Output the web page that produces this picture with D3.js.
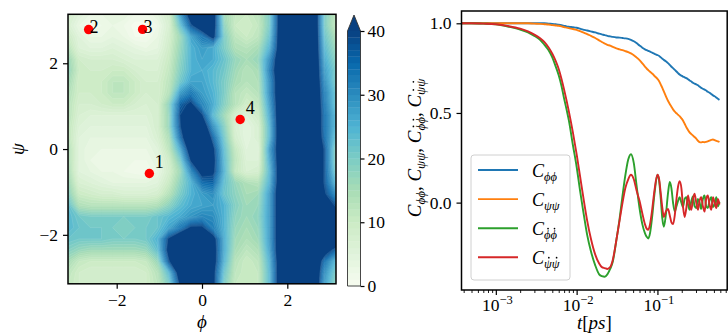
<!DOCTYPE html>
<html>
<head>
<meta charset="utf-8">
<script src="https://cdn.jsdelivr.net/npm/d3@7"></script>
<style>
  html, body { margin: 0; padding: 0; background: #fff; }
  svg text { font-family: "Liberation Serif", "DejaVu Serif", serif; fill: #000; }
</style>
</head>
<body>
<svg id="fig" width="728" height="334"></svg>
<script>
// ---------------- data: free energy map over (phi, psi) ----------------
const phiTicks = [-2, 0, 2];
const psiTicks = [-2, 0, 2];
const energyTicks = [0, 10, 20, 30, 40];
const energyLevels = d3.range(0, 41);          // contour levels, 1 unit apart
// rows run from psi = +pi (top) to psi = -pi (bottom), columns from phi = -pi to +pi
const freeEnergy = [
  [8, 5, 3, 3, 4, 4, 2, 2, 4, 8, 28, 45, 48, 45, 16, 11, 10, 12, 20, 45, 50, 50, 50, 20, 12],
  [7, 3, 0.5, 2, 3, 2, 0.5, 0.5, 2, 7, 22, 38, 46, 44, 18, 10, 9, 11, 20, 45, 50, 50, 50, 20, 11],
  [10, 5, 3, 3, 4, 3, 1, 1, 3, 8, 16, 27, 33, 42, 20, 12, 10, 12, 22, 45, 50, 50, 50, 22, 14],
  [13, 6, 5, 5, 6, 5, 4, 3, 4, 9, 17, 25, 28, 26, 20, 14, 13, 15, 25, 45, 50, 50, 50, 24, 16],
  [17, 9, 8, 8, 8, 7, 6, 6, 6, 10, 18, 25, 27, 26, 22, 17, 15, 17, 30, 47, 50, 50, 50, 26, 18],
  [18, 10, 9, 9, 10, 10, 8, 7, 7, 11, 19, 25, 26, 24, 21, 16, 13, 15, 32, 48, 50, 50, 50, 28, 20],
  [16, 9, 9, 10, 12, 12, 10, 8, 8, 12, 21, 27, 27, 24, 20, 15, 13, 14, 30, 47, 50, 50, 50, 30, 20],
  [14, 9, 9, 10, 12, 12, 10, 8, 8, 13, 28, 33, 28, 25, 20, 13, 11, 13, 30, 47, 50, 50, 50, 32, 22],
  [13, 8, 8, 9, 10, 10, 8, 7, 8, 18, 36, 41, 31, 26, 19, 13, 9, 11, 28, 47, 50, 50, 50, 33, 22],
  [13, 7, 6, 6, 6, 6, 6, 6, 8, 17, 39, 47, 40, 24, 16, 8, 6, 9, 26, 47, 50, 50, 50, 34, 24],
  [12, 6, 5, 5, 5, 5, 5, 5, 8, 17, 38, 52, 47, 30, 19, 7, 4, 7, 24, 47, 50, 50, 50, 34, 24],
  [12, 5, 4, 4, 4, 4, 4, 4, 7, 14, 34, 51, 53, 36, 21, 8, 4, 7, 24, 47, 50, 50, 50, 35, 22],
  [14, 5, 3, 3, 3, 3, 3, 3, 5, 12, 26, 46, 54, 41, 23, 11, 5, 5, 28, 46, 50, 50, 50, 38, 18],
  [14, 5, 3, 2, 2, 2, 2, 2, 4, 9, 20, 40, 49, 42, 24, 12, 6, 6, 26, 46, 50, 50, 50, 38, 18],
  [15, 5, 4, 3, 3, 2, 1.5, 1, 3, 8, 16, 31, 43, 41, 25, 11, 7, 8, 24, 46, 50, 50, 50, 38, 20],
  [17, 7, 6, 5, 4, 4, 4, 4, 5, 10, 18, 25, 35, 36, 23, 17, 14, 13, 25, 46, 50, 50, 50, 38, 24],
  [19, 10, 9, 8, 8, 7, 7, 7, 8, 13, 20, 25, 28, 30, 22, 18, 15, 16, 28, 47, 50, 50, 50, 40, 30],
  [23, 14, 13, 13, 13, 13, 13, 13, 14, 18, 23, 26, 27, 28, 25, 19, 16, 17, 28, 47, 50, 50, 50, 45, 38],
  [24, 21, 20, 20, 20, 20, 20, 20, 22, 24, 26, 29, 31, 30, 25, 18, 16, 18, 28, 47, 50, 50, 50, 48, 45],
  [24, 22, 21, 21, 20, 19, 20, 21, 22, 27, 33, 40.5, 40.5, 32, 25, 17, 15, 17, 28, 47, 50, 50, 50, 50, 50],
  [22, 21, 21, 21, 20, 20, 20, 21, 25, 40, 48, 52, 52, 43, 26, 16, 14, 16, 28, 47, 50, 50, 50, 50, 50],
  [19, 17, 16, 16, 16, 16, 16, 17, 23, 42, 50, 50, 50, 44, 26, 15, 12, 14, 27, 47, 50, 50, 50, 44, 36],
  [15, 11, 10, 10, 10, 10, 10, 11, 17, 38, 50, 50, 50, 44, 25, 13, 10, 12, 25, 46, 50, 50, 50, 34, 24],
  [12, 9, 8, 8, 8, 8, 8, 9, 13, 24, 45, 50, 50, 42, 22, 12, 10, 11, 24, 46, 50, 50, 50, 30, 20],
  [11, 9, 8, 8, 8, 8, 8, 9, 12, 20, 40, 50, 50, 42, 20, 11, 10, 11, 24, 46, 50, 50, 50, 28, 18]
];
// metastable states marked on the map
const stateNames = ["1", "2", "3", "4"];
const statePhi = [-1.234, -2.658, -1.393, 0.895];
const statePsi = [-0.569, 2.786, 2.79, 0.69];

// ---------------- data: time correlation functions ----------------
const lagTimes = [0.00038, 0.0005, 0.0007, 0.001, 0.0014, 0.002, 0.0025, 0.003, 0.0035, 0.004,
  0.0045, 0.005, 0.0055, 0.006, 0.0065, 0.007, 0.0075, 0.008, 0.009, 0.01,
  0.011, 0.012, 0.0135, 0.015, 0.017, 0.019, 0.0205, 0.0223, 0.024, 0.026,
  0.028, 0.031, 0.034, 0.037, 0.04, 0.0435, 0.047, 0.051, 0.055, 0.06,
  0.065, 0.07, 0.0735, 0.077, 0.081, 0.086, 0.092, 0.1, 0.105, 0.11,
  0.115, 0.12, 0.127, 0.135, 0.142, 0.149, 0.156, 0.164, 0.172, 0.18,
  0.188, 0.198, 0.207, 0.217, 0.228, 0.239, 0.25, 0.263, 0.275, 0.288,
  0.302, 0.317, 0.332, 0.348, 0.365, 0.383, 0.401, 0.42, 0.441, 0.464,
  0.487, 0.51, 0.535, 0.56, 0.586];
const corrPhiPhi = [1, 1, 1, 1, 1, 1, 1, 1, 1, 1,
  0.998, 0.997, 0.995, 0.992, 0.989, 0.986, 0.983, 0.981, 0.978, 0.975,
  0.97, 0.965, 0.96, 0.955, 0.949, 0.942, 0.938, 0.934, 0.93, 0.927,
  0.924, 0.921, 0.92, 0.918, 0.916, 0.913, 0.908, 0.9, 0.89, 0.876,
  0.864, 0.855, 0.85, 0.846, 0.842, 0.836, 0.83, 0.823, 0.818, 0.81,
  0.802, 0.796, 0.788, 0.778, 0.768, 0.758, 0.75, 0.74, 0.731, 0.722,
  0.714, 0.708, 0.703, 0.699, 0.694, 0.688, 0.681, 0.675, 0.668, 0.663,
  0.66, 0.654, 0.647, 0.64, 0.635, 0.63, 0.625, 0.618, 0.613, 0.605,
  0.598, 0.593, 0.586, 0.579, 0.573];
const corrPsiPsi = [1, 1, 1, 1, 1, 1, 1, 0.998, 0.997, 0.995,
  0.993, 0.99, 0.988, 0.986, 0.983, 0.979, 0.976, 0.973, 0.968, 0.963,
  0.956, 0.949, 0.94, 0.93, 0.918, 0.905, 0.896, 0.887, 0.88, 0.875,
  0.868, 0.86, 0.855, 0.85, 0.845, 0.839, 0.832, 0.822, 0.81, 0.795,
  0.776, 0.759, 0.748, 0.739, 0.73, 0.72, 0.706, 0.69, 0.677, 0.658,
  0.64, 0.62, 0.594, 0.568, 0.55, 0.535, 0.52, 0.507, 0.498, 0.49,
  0.482, 0.47, 0.458, 0.44, 0.42, 0.405, 0.392, 0.382, 0.374, 0.366,
  0.357, 0.345, 0.338, 0.336, 0.338, 0.337, 0.339, 0.342, 0.346, 0.35,
  0.352, 0.348, 0.344, 0.342, 0.338];
const corrDPhiDPhi = [1, 1, 0.998, 0.994, 0.982, 0.965, 0.95, 0.93, 0.91, 0.88,
  0.85, 0.81, 0.76, 0.71, 0.65, 0.58, 0.52, 0.46, 0.32, 0.2,
  0.07, -0.04, -0.18, -0.27, -0.35, -0.4, -0.41, -0.413, -0.4, -0.37,
  -0.33, -0.21, -0.09, 0.04, 0.15, 0.24, 0.27, 0.22, 0.1, -0.03,
  -0.12, -0.17, -0.19, -0.2, -0.17, -0.08, 0.05, 0.155, 0.12, 0.02,
  -0.09, -0.135, -0.07, 0.05, 0.115, 0.08, 0, -0.05, -0.02, 0.01,
  0.03, 0, -0.025, 0.02, 0.03, -0.01, -0.04, 0.01, 0.035, -0.02,
  -0.03, 0.02, 0, -0.035, 0.02, 0.04, -0.02, -0.03, 0.01, 0.03,
  -0.025, -0.01, 0.03, -0.02, 0.005];
const corrDPsiDPsi = [1, 1, 0.998, 0.995, 0.985, 0.97, 0.955, 0.937, 0.918, 0.895,
  0.865, 0.83, 0.79, 0.745, 0.69, 0.63, 0.57, 0.51, 0.39, 0.27,
  0.15, 0.04, -0.1, -0.2, -0.29, -0.34, -0.36, -0.365, -0.37, -0.36,
  -0.32, -0.21, -0.1, 0, 0.08, 0.13, 0.155, 0.13, 0.07, 0.01,
  -0.06, -0.12, -0.145, -0.152, -0.12, -0.04, 0.07, 0.155, 0.13, 0.05,
  -0.03, -0.08, -0.05, -0.036, -0.07, -0.11, -0.12, -0.07, 0.02, 0.09,
  0.12, 0.08, -0.02, -0.08, -0.03, 0.04, -0.01, -0.04, 0.02, 0.05,
  0, -0.04, 0.01, 0.03, -0.02, -0.05, 0.02, 0.04, -0.01, -0.04,
  0.03, 0, -0.03, 0.02, -0.01];
const corrTicks = [0, 0.5, 1];
const timeTicks = [1e-3, 1e-2, 1e-1];

// ---------------- helpers ----------------
const svg = d3.select("#fig");
const PI = Math.PI;
const minus = v => (v < 0 ? "\u2212" + Math.abs(v) : String(v));
const gnbuStops = ["#f7fcf0", "#e0f3db", "#ccebc5", "#a8ddb5", "#7bccc4", "#4eb3d3", "#2b8cbe", "#0868ac", "#084081"];
const gnbu = d3.piecewise(d3.interpolateRgb, gnbuStops);
const topLevel = energyTicks[energyTicks.length - 1];
const bandColor = t => (t >= topLevel ? gnbu(1) : gnbu((t + 0.5) / topLevel));
const TICK_FS = 17.5, LABEL_FS = 19;

function styleAxis(g) {
  g.attr("font-size", null).attr("font-family", null);
  g.select(".domain").remove();
  g.selectAll(".tick line").attr("stroke", "#000").attr("stroke-width", 1.2);
  g.selectAll(".tick text").style("font-size", TICK_FS + "px");
}

// Writes C with a subscript; letters flagged with dots get an overdot (time derivative).
function mathText(g, pieces, size) {
  const text = g.append("text").style("font-size", size + "px");
  let idx = 0, level = 0;
  const dotted = [];
  pieces.forEach(p => {
    const target = p.sub ? 4 : 0;
    const ts = text.append("tspan").text(p.t);
    if (target !== level) ts.attr("dy", target - level);
    level = target;
    if (p.italic) ts.attr("font-style", "italic");
    if (p.sub) ts.style("font-size", p.sub + "px");
    if (p.dot) for (let k = 0; k < p.t.length; k++) dotted.push(idx + k);
    idx += p.t.length;
  });
  return { text, dotted };
}
function placeDots(g, m) {
  const node = m.text.node();
  m.dotted.forEach(i => {
    const b = node.getExtentOfChar(i);
    g.append("circle").attr("cx", b.x + b.width * 0.62).attr("cy", b.y + b.height * 0.06)
      .attr("r", 0.85).attr("fill", "#000");
  });
}
const subPieces = (sub, dot, subSize) => [
  { t: "C", italic: true },
  { t: sub, italic: true, sub: subSize, dot: dot }
];

// ================= left panel: free energy contour map =================
const L = { x0: 68, x1: 336, y0: 14.3, y1: 283.8 };
const xPhi = d3.scaleLinear([-PI, PI], [L.x0, L.x1]);
const yPsi = d3.scaleLinear([-PI, PI], [L.y1, L.y0]);
const nx = freeEnergy[0].length, ny = freeEnergy.length;
const dPhi = 2 * PI / (nx - 1), dPsi = 2 * PI / (ny - 1);

svg.append("clipPath").attr("id", "mapClip")
  .append("rect").attr("x", L.x0).attr("y", L.y0).attr("width", L.x1 - L.x0).attr("height", L.y1 - L.y0);

const bands = d3.contours().size([nx, ny]).thresholds(energyLevels)(freeEnergy.flat());
// grid coordinate c sits at sample index c - 0.5
const gridToPlot = d3.geoTransform({
  point(x, y) { this.stream.point(xPhi(-PI + (x - 0.5) * dPhi), yPsi(PI - (y - 0.5) * dPsi)); }
});
const bandPath = d3.geoPath(gridToPlot);

svg.append("g").attr("clip-path", "url(#mapClip)")
  .selectAll("path").data(bands).join("path")
  .attr("d", bandPath)
  .attr("fill", d => bandColor(d.value))
  .attr("stroke", "#ffffff")
  .attr("stroke-opacity", d => (d.value >= topLevel ? 0 : 0.24))
  .attr("stroke-width", 0.45);

// state markers and their numbers
const states = stateNames.map((n, i) => ({ name: n, phi: statePhi[i], psi: statePsi[i] }));
svg.append("g").selectAll("circle").data(states).join("circle")
  .attr("cx", d => xPhi(d.phi)).attr("cy", d => yPsi(d.psi)).attr("r", 4.7).attr("fill", "#ff0000");
svg.append("g").selectAll("text").data(states).join("text")
  .attr("x", d => xPhi(d.phi) + (d.psi > 2.5 ? 0.8 : 5.5))
  .attr("y", d => yPsi(d.psi) + (d.psi > 2.5 ? 3.8 : -5.5))
  .style("font-size", "18px")
  .text(d => d.name);

// frame
svg.append("rect").attr("x", L.x0).attr("y", L.y0).attr("width", L.x1 - L.x0).attr("height", L.y1 - L.y0)
  .attr("fill", "none").attr("stroke", "#000").attr("stroke-width", 1.5);

svg.append("g").attr("transform", `translate(0,${L.y1})`)
  .call(d3.axisBottom(xPhi).tickValues(phiTicks).tickSize(5).tickPadding(5).tickFormat(minus))
  .call(styleAxis);
svg.append("g").attr("transform", `translate(${L.x0},0)`)
  .call(d3.axisLeft(yPsi).tickValues(psiTicks).tickSize(5).tickPadding(5).tickFormat(minus))
  .call(styleAxis);

svg.append("text").attr("x", (L.x0 + L.x1) / 2).attr("y", 327.5).attr("text-anchor", "middle")
  .style("font-size", LABEL_FS + "px").attr("font-style", "italic").text("\u03D5");
svg.append("text").attr("transform", `translate(24,${(L.y0 + L.y1) / 2}) rotate(-90)`).attr("text-anchor", "middle")
  .style("font-size", LABEL_FS + "px").attr("font-style", "italic").text("\u03C8");

// colorbar
const CB = { x0: 347.5, x1: 360.5, y0: 31, y1: 286, tip: 15 };
const yCb = d3.scaleLinear([0, topLevel], [CB.y1, CB.y0]);
const cbBands = energyLevels.slice(0, -1);
svg.append("g").selectAll("rect").data(cbBands).join("rect")
  .attr("x", CB.x0).attr("width", CB.x1 - CB.x0)
  .attr("y", d => yCb(d + 1)).attr("height", d => yCb(d) - yCb(d + 1) + 0.3)
  .attr("fill", d => bandColor(d));
const tipPts = [[CB.x0, CB.y0], [(CB.x0 + CB.x1) / 2, CB.tip], [CB.x1, CB.y0]];
svg.append("path").attr("d", d3.line()(tipPts) + "Z").attr("fill", bandColor(topLevel));
svg.append("path")
  .attr("d", d3.line()([[CB.x0, CB.y1], [CB.x0, CB.y0], [(CB.x0 + CB.x1) / 2, CB.tip], [CB.x1, CB.y0], [CB.x1, CB.y1]]) + "Z")
  .attr("fill", "none").attr("stroke", "#333").attr("stroke-width", 0.9);
svg.append("g").attr("transform", `translate(${CB.x1},0)`)
  .call(d3.axisRight(yCb).tickValues(energyTicks).tickSize(4).tickPadding(3))
  .call(styleAxis);

// ================= right panel: correlation functions =================
const R = { x0: 461.5, x1: 727.2, y0: 11, y1: 290 };
const xT = d3.scaleLog().domain([3.76e-4, 0.73]).range([R.x0, R.x1]);
const yC = d3.scaleLinear().domain([-0.4873, 1.0686]).range([R.y1, R.y0]);

svg.append("clipPath").attr("id", "corrClip")
  .append("rect").attr("x", R.x0).attr("y", R.y0).attr("width", R.x1 - R.x0).attr("height", R.y1 - R.y0);

const series = [
  { values: corrPhiPhi, color: "#1f77b4", sub: "\u03D5\u03D5", dot: false },
  { values: corrPsiPsi, color: "#ff7f0e", sub: "\u03C8\u03C8", dot: false },
  { values: corrDPhiDPhi, color: "#2ca02c", sub: "\u03D5\u03D5", dot: true },
  { values: corrDPsiDPsi, color: "#d62728", sub: "\u03C8\u03C8", dot: true }
];
const corrLine = d3.line().x(d => xT(d[0])).y(d => yC(d[1])).curve(d3.curveMonotoneX);
svg.append("g").attr("clip-path", "url(#corrClip)")
  .selectAll("path").data(series).join("path")
  .attr("d", s => corrLine(lagTimes.map((t, i) => [t, s.values[i]])))
  .attr("fill", "none").attr("stroke", s => s.color).attr("stroke-width", 1.9)
  .attr("stroke-linejoin", "round");

// legend
const lg = svg.append("g");
lg.append("rect").attr("x", 471).attr("y", 155).attr("width", 99).attr("height", 125).attr("rx", 3)
  .attr("fill", "#fff").attr("fill-opacity", 0.8).attr("stroke", "#d0d0d0").attr("stroke-width", 1);
series.forEach((s, k) => {
  const ly = 170 + k * 29.1;
  lg.append("line").attr("x1", 478).attr("x2", 518).attr("y1", ly).attr("y2", ly)
    .attr("stroke", s.color).attr("stroke-width", 1.9);
  const eg = lg.append("g").attr("transform", `translate(532,${ly + 6.5})`);
  placeDots(eg, mathText(eg, subPieces(s.sub, s.dot, 12.5), 18));
});

// frame and axes
svg.append("rect").attr("x", R.x0).attr("y", R.y0).attr("width", R.x1 - R.x0).attr("height", R.y1 - R.y0)
  .attr("fill", "none").attr("stroke", "#000").attr("stroke-width", 1.5);

svg.append("g").attr("transform", `translate(${R.x0},0)`)
  .call(d3.axisLeft(yC).tickValues(corrTicks).tickSize(5).tickPadding(5).tickFormat(d3.format(".1f")))
  .call(styleAxis);

const minorTimes = xT.ticks().filter(t => Math.abs(Math.log10(t) - Math.round(Math.log10(t))) > 1e-6);
svg.append("g").attr("transform", `translate(0,${R.y1})`)
  .call(d3.axisBottom(xT).tickValues(minorTimes).tickSize(3).tickFormat(""))
  .call(styleAxis)
  .selectAll(".tick line").attr("stroke-width", 0.9);
svg.append("g").attr("transform", `translate(0,${R.y1})`)
  .call(d3.axisBottom(xT).tickValues(timeTicks).tickSize(5).tickFormat(""))
  .call(styleAxis);
timeTicks.forEach(t => {
  const e = Math.round(Math.log10(t));
  const tx = svg.append("text").attr("x", xT(t) + 1.5).attr("y", 311).attr("text-anchor", "middle")
    .style("font-size", TICK_FS + "px");
  tx.append("tspan").text("10");
  tx.append("tspan").attr("dy", -7).style("font-size", "12.5px").text(minus(e));
});

// axis titles
const xt = svg.append("text").attr("x", (R.x0 + R.x1) / 2).attr("y", 329).attr("text-anchor", "middle")
  .style("font-size", LABEL_FS + "px");
xt.append("tspan").attr("font-style", "italic").text("t");
xt.append("tspan").text("[");
xt.append("tspan").attr("font-style", "italic").text("ps");
xt.append("tspan").text("]");

const yg = svg.append("g").attr("transform", "translate(420.5,148) rotate(-90)");
const yPieces = [];
series.forEach((s, k) => {
  if (k > 0) yPieces.push({ t: ", " });
  subPieces(s.sub, s.dot, 13).forEach(p => yPieces.push(p));
});
const ym = mathText(yg, yPieces, LABEL_FS);
ym.text.attr("text-anchor", "middle");
placeDots(yg, ym);
</script>
</body>
</html>
